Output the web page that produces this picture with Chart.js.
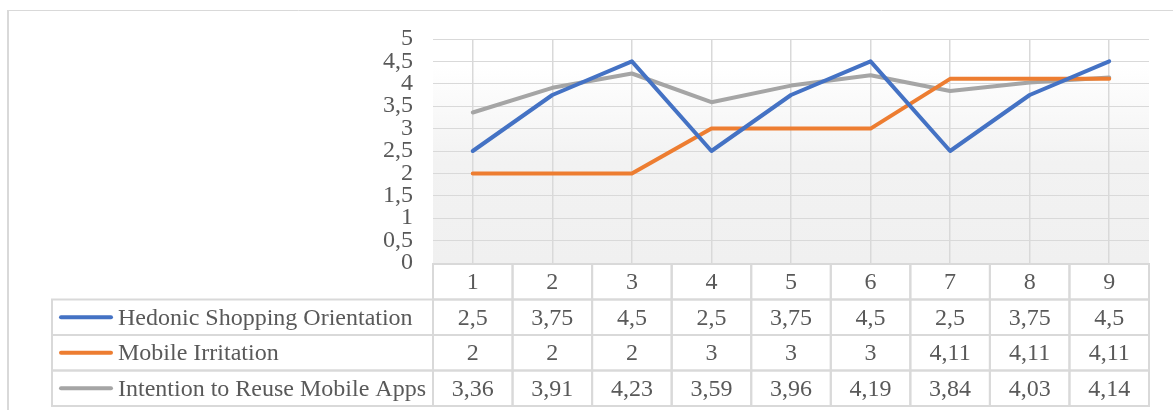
<!DOCTYPE html>
<html lang="en">
<head>
    <meta charset="UTF-8">
    <title>Shopping Orientation, Irritation and Reuse Intention</title>
    <style>
        body {
            margin: 0;
            background: white;
        }

        .container {
            width: 1173px;
            height: 410px;
        }
    </style>
</head>
<body>
    <div class="container">
        <canvas id="scoreChart" width="1173" height="410"></canvas>
    </div>

    <script src="https://cdn.jsdelivr.net/npm/chart.js"></script>

    <script>
        // Respondent groups on the x axis
        const categories = ['1', '2', '3', '4', '5', '6', '7', '8', '9'];

        const seriesNames = [
            'Hedonic Shopping Orientation',
            'Mobile Irritation',
            'Intention to Reuse Mobile Apps'
        ];

        const hedonicValues = [2.5, 3.75, 4.5, 2.5, 3.75, 4.5, 2.5, 3.75, 4.5];
        const irritationValues = [2, 2, 2, 3, 3, 3, 4.11, 4.11, 4.11];
        const reuseValues = [3.36, 3.91, 4.23, 3.59, 3.96, 4.19, 3.84, 4.03, 4.14];

        const seriesColors = ['#4472C4', '#ED7D31', '#A5A5A5'];

        const textColor = '#595959';
        const lineGray = '#d9d9d9';
        const serif = '"Liberation Serif", "Times New Roman", serif';

        // Decimal comma, as in the source table
        function fmt(v) {
            return String(v).replace('.', ',');
        }

        // Frame and gradient plot background
        const backgroundPlugin = {
            id: 'background',
            beforeDraw(chart) {
                const ctx = chart.ctx;
                const area = chart.chartArea;
                ctx.save();
                ctx.fillStyle = 'white';
                ctx.fillRect(0, 0, chart.width, chart.height);

                const grad = ctx.createLinearGradient(0, area.top, 0, area.bottom);
                grad.addColorStop(0, '#ffffff');
                grad.addColorStop(0.12, '#ffffff');
                grad.addColorStop(0.55, '#f2f2f2');
                grad.addColorStop(1, '#f0f0f0');
                ctx.fillStyle = grad;
                ctx.fillRect(area.left, area.top, area.right - area.left, area.bottom - area.top);

                ctx.strokeStyle = lineGray;
                ctx.lineWidth = 1;
                ctx.beginPath();
                ctx.moveTo(7, 10.5);
                ctx.lineTo(chart.width, 10.5);
                ctx.stroke();
                ctx.lineWidth = 2;
                ctx.beginPath();
                ctx.moveTo(8, 10);
                ctx.lineTo(8, chart.height);
                ctx.stroke();
                ctx.restore();
            }
        };

        // Data table under the plot, columns taken from the x scale
        const dataTablePlugin = {
            id: 'dataTable',
            afterDraw(chart) {
                const ctx = chart.ctx;
                const x = chart.scales.x;
                const area = chart.chartArea;
                const step = x.getPixelForValue(1) - x.getPixelForValue(0);
                const rowH = 35.5;
                const top = area.bottom + 1;
                const legendLeft = 52;
                const legendLine = [59, 113];

                ctx.save();
                ctx.strokeStyle = lineGray;
                ctx.lineWidth = 2;
                ctx.font = '24px ' + serif;
                ctx.fillStyle = textColor;
                ctx.textBaseline = 'middle';

                // header row with category names
                categories.forEach((c, i) => {
                    const cx = x.getPixelForValue(i);
                    ctx.strokeRect(cx - step / 2, top, step, rowH);
                    ctx.textAlign = 'center';
                    ctx.fillText(c, cx, top + rowH / 2 + 1);
                });

                const rows = [hedonicValues, irritationValues, reuseValues];
                rows.forEach((values, r) => {
                    const y0 = top + rowH * (r + 1);
                    const cy = y0 + rowH / 2 + 1;

                    // legend cell
                    ctx.strokeRect(legendLeft, y0, area.left - legendLeft, rowH);
                    ctx.save();
                    ctx.strokeStyle = seriesColors[r];
                    ctx.lineWidth = 4;
                    ctx.lineCap = 'round';
                    ctx.beginPath();
                    ctx.moveTo(legendLine[0] + 2, cy - 1);
                    ctx.lineTo(legendLine[1] - 2, cy - 1);
                    ctx.stroke();
                    ctx.restore();
                    ctx.textAlign = 'left';
                    ctx.fillText(seriesNames[r], 118, cy);

                    values.forEach((v, i) => {
                        const cx = x.getPixelForValue(i);
                        ctx.strokeRect(cx - step / 2, y0, step, rowH);
                        ctx.textAlign = 'center';
                        ctx.fillText(fmt(v), cx, cy);
                    });
                });
                ctx.restore();
            }
        };

        const datasets = [hedonicValues, irritationValues, reuseValues].map((data, i) => ({
            label: seriesNames[i],
            data: data,
            borderColor: seriesColors[i],
            backgroundColor: seriesColors[i],
            borderWidth: 4,
            pointRadius: 0,
            tension: 0,
            borderJoinStyle: 'round',
            borderCapStyle: 'round'
        }));

        const ctx = document.getElementById('scoreChart').getContext('2d');
        new Chart(ctx, {
            type: 'line',
            data: {
                labels: categories,
                datasets: datasets
            },
            options: {
                responsive: false,
                animation: false,
                layout: {
                    padding: { top: 39, right: 24, bottom: 147, left: 0 }
                },
                plugins: {
                    legend: { display: false },
                    tooltip: { enabled: false }
                },
                scales: {
                    x: {
                        offset: true,
                        grid: {
                            offset: false,
                            color: lineGray,
                            lineWidth: 1.5,
                            drawTicks: false
                        },
                        border: { display: false },
                        ticks: { display: false }
                    },
                    y: {
                        min: 0,
                        max: 5,
                        afterFit(scale) {
                            scale.width = 433;
                        },
                        ticks: {
                            stepSize: 0.5,
                            autoSkip: false,
                            padding: 20,
                            color: textColor,
                            font: { family: serif, size: 24, lineHeight: 1 },
                            callback: (v) => fmt(v)
                        },
                        grid: {
                            color: lineGray,
                            lineWidth: 1,
                            drawTicks: false
                        },
                        border: { display: false }
                    }
                }
            },
            plugins: [backgroundPlugin, dataTablePlugin]
        });
    </script>
</body>
</html>
